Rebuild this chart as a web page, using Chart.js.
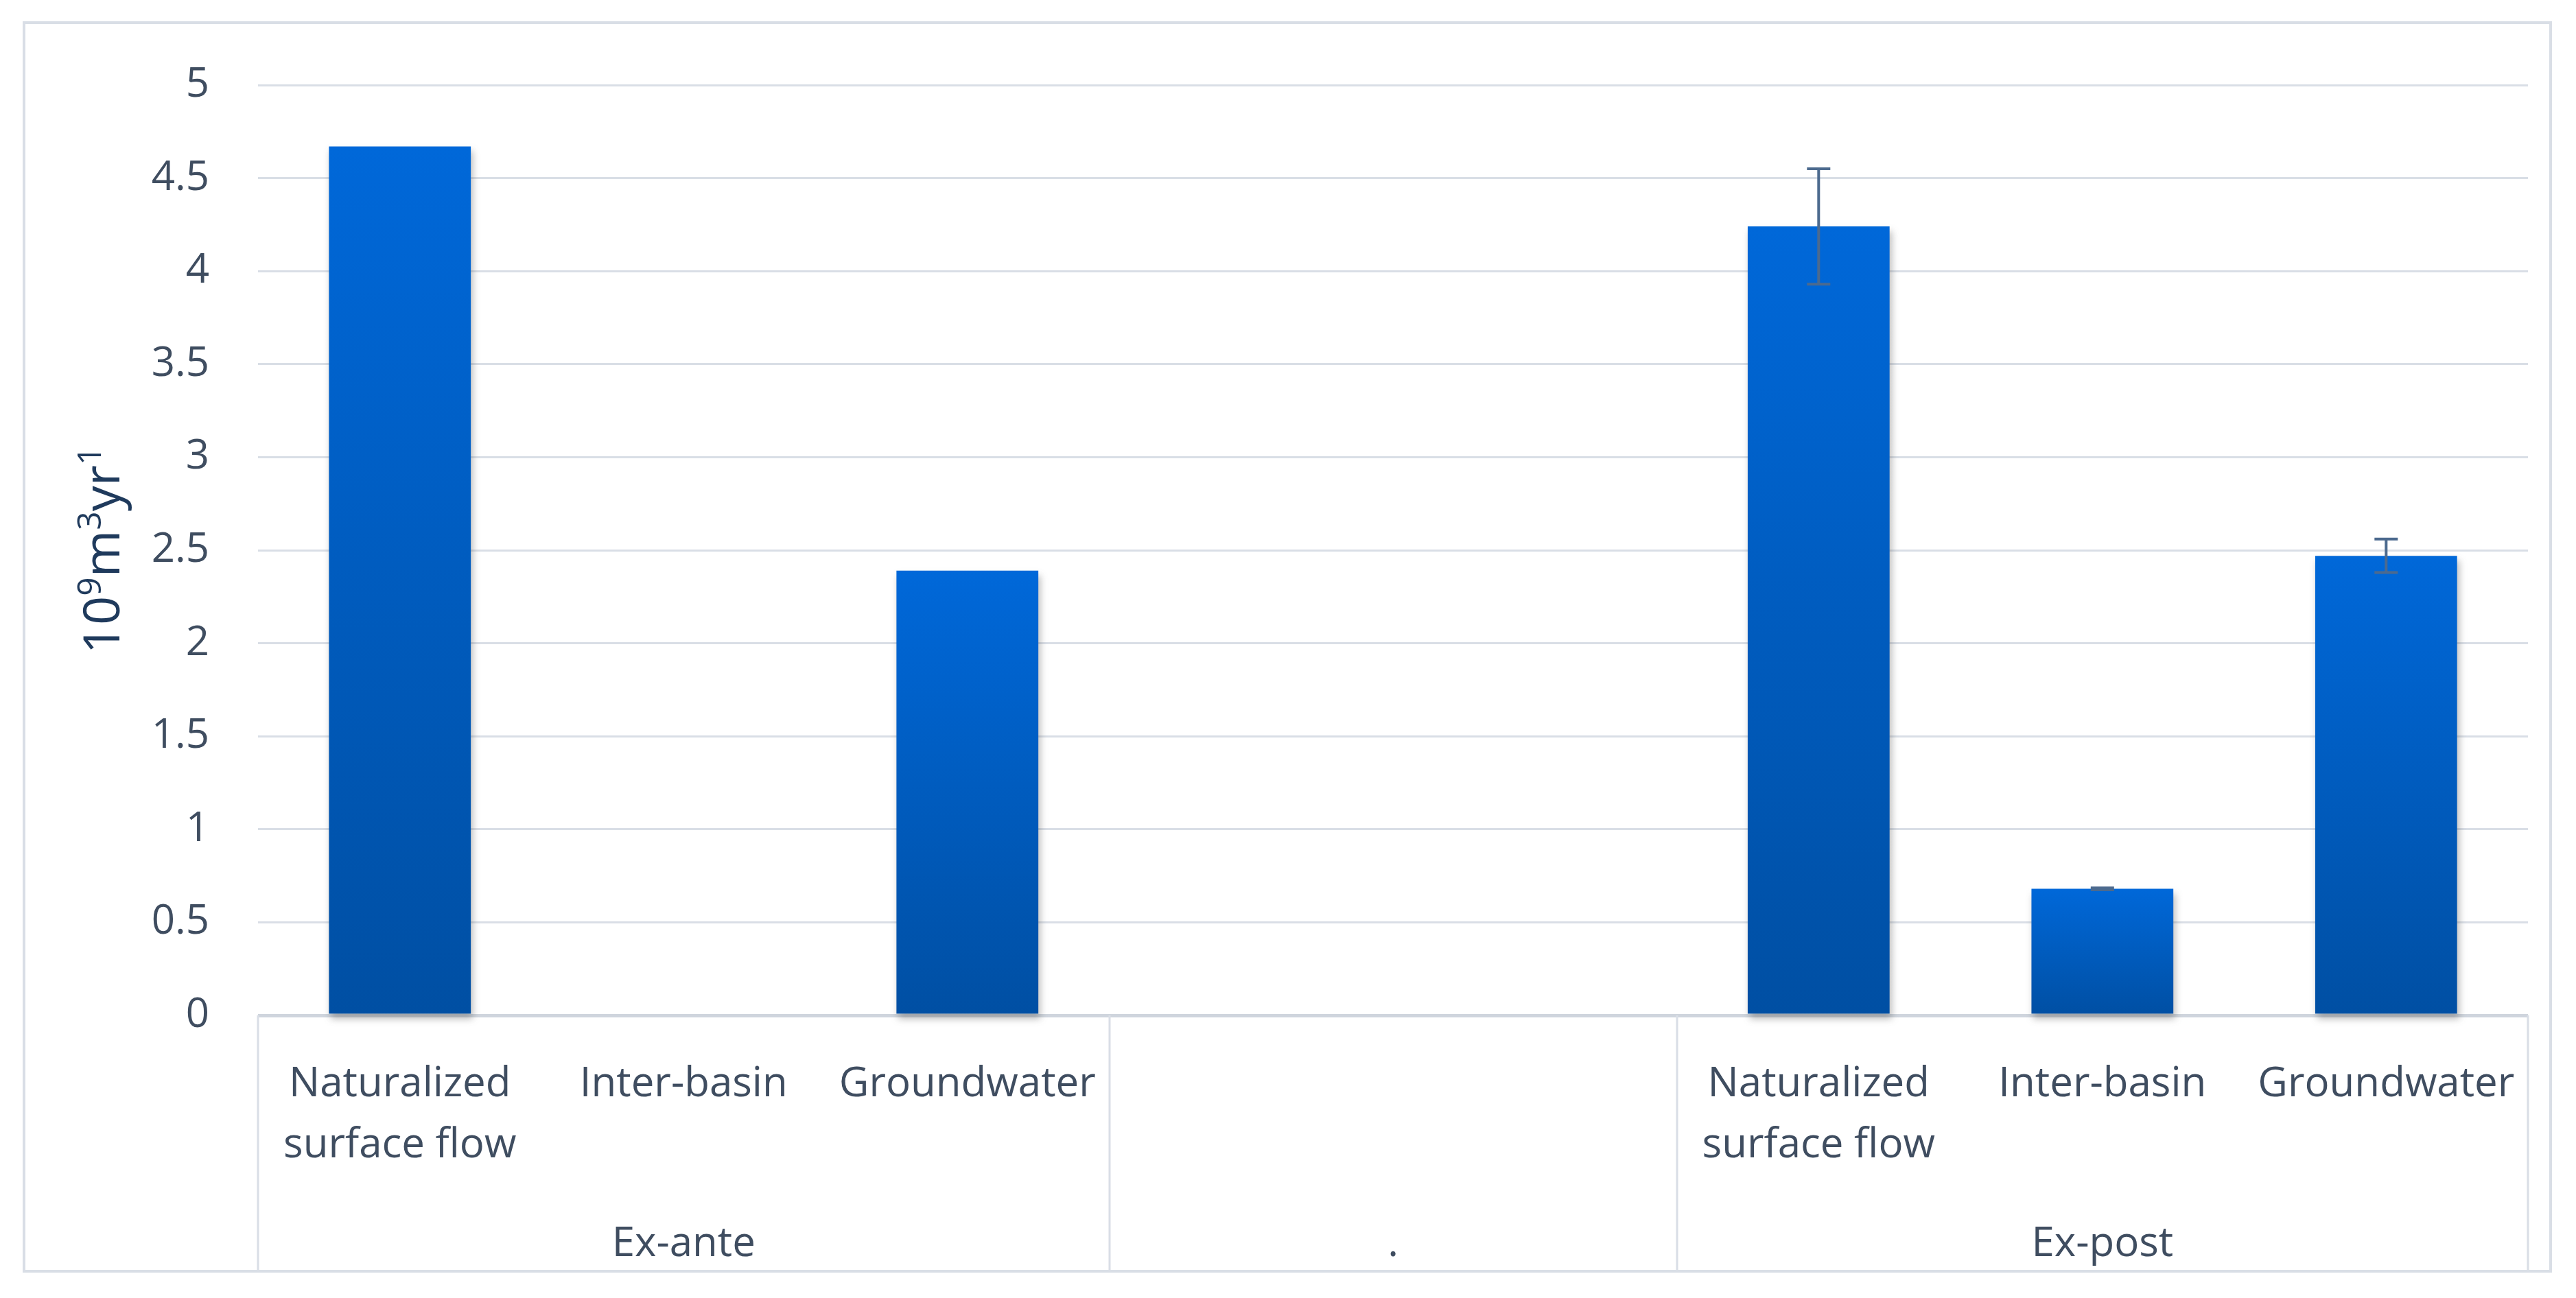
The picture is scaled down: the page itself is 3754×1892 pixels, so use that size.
<!DOCTYPE html>
<html>
<head>
<meta charset="utf-8">
<script src="https://cdn.jsdelivr.net/npm/chart.js@4.4.1/dist/chart.umd.min.js"></script>
<style>
  html, body { margin: 0; padding: 0; background: #ffffff; }
  #frame { position: absolute; left: 33px; top: 31px; width: 3686px; height: 1824px;
           border: 4px solid #D9DEE6; box-sizing: border-box; background: #ffffff; }
  #c { display: block; }
</style>
</head>
<body>
<div id="frame"><canvas id="c" width="3678" height="1816"></canvas></div>
<script>
// ---- data ----
const categories = [["Naturalized", "surface flow"], "Inter-basin", "Groundwater", "", "",
                    ["Naturalized", "surface flow"], "Inter-basin", "Groundwater"];
const values = [4.67, 0, 2.39, null, null, 4.24, 0.68, 2.47];
const errors = [0, 0, 0, 0, 0, 0.31, 0.005, 0.09];
const groupLabels = ["Ex-ante", ".", "Ex-post"];
const groupSpans = [3, 2, 3];
const yTicks = { min: 0, max: 5, step: 0.5 };
const yTitleParts = [["10", false], ["9", true], ["m", false], ["3", true], ["yr", false], ["1", true]];

const FONT = "'Open Sans', 'Noto Sans', sans-serif";
const LABEL_COLOR = '#3F4D60';

// group centres and boundaries in category-index units
const groupCenters = [];
const groupBounds = [-0.5];
{
  let start = 0;
  groupSpans.forEach(s => { groupCenters.push(start + (s - 1) / 2); start += s; groupBounds.push(start - 0.5); });
}

function barGradient(ctx) {
  const chart = ctx.chart;
  const { chartArea, scales } = chart;
  if (!chartArea || ctx.type !== 'data' || ctx.raw == null) return '#005BBF';
  const top = scales.y.getPixelForValue(ctx.raw);
  const bot = scales.y.getPixelForValue(0);
  if (bot - top < 1) return '#0050A6';
  const g = chart.ctx.createLinearGradient(0, top, 0, bot);
  g.addColorStop(0, '#0068D9');
  g.addColorStop(1, '#004FA3');
  return g;
}

const shadowPlugin = {
  id: 'barShadow',
  beforeDatasetsDraw(chart) {
    const c = chart.ctx; c.save();
    c.shadowColor = 'rgba(60,60,60,0.35)'; c.shadowBlur = 10; c.shadowOffsetX = 3; c.shadowOffsetY = 7;
  },
  afterDatasetsDraw(chart) { chart.ctx.restore(); }
};

const errorBarPlugin = {
  id: 'errorBars',
  afterDatasetsDraw(chart) {
    const c = chart.ctx, y = chart.scales.y;
    const meta = chart.getDatasetMeta(0);
    c.save();
    c.strokeStyle = '#4C6A8E'; c.lineWidth = 4; c.lineCap = 'butt';
    values.forEach((v, i) => {
      const e = errors[i];
      if (v == null || !e) return;
      const x = meta.data[i].x;
      const yt = y.getPixelForValue(v + e), yb = y.getPixelForValue(v - e);
      c.beginPath();
      c.moveTo(x, yt); c.lineTo(x, yb);
      c.moveTo(x - 17, yt); c.lineTo(x + 17, yt);
      c.moveTo(x - 17, yb); c.lineTo(x + 17, yb);
      c.stroke();
    });
    c.restore();
  }
};

const separatorPlugin = {
  id: 'groupSeparators',
  afterDraw(chart) {
    const c = chart.ctx, x = chart.scales.x, a = chart.chartArea;
    const w = x.getPixelForValue(1) - x.getPixelForValue(0);
    c.save();
    c.strokeStyle = '#D9DEE6'; c.lineWidth = 3;
    groupBounds.forEach(b => {
      const px = Math.round(x.getPixelForValue(0) + (b) * w);
      c.beginPath(); c.moveTo(px, a.bottom); c.lineTo(px, chart.height); c.stroke();
    });
    c.restore();
  }
};

const yTitlePlugin = {
  id: 'yTitle',
  afterDraw(chart) {
    const c = chart.ctx;
    const main = 74, sup = 48;
    c.save();
    c.fillStyle = '#1F3A5C';
    c.translate(111, 767);
    c.rotate(-Math.PI / 2);
    let total = 0;
    yTitleParts.forEach(([t, s]) => { c.font = `${s ? sup : main}px ${FONT}`; total += c.measureText(t).width; });
    let xx = -total / 2;
    c.textBaseline = 'alphabetic'; c.textAlign = 'left';
    yTitleParts.forEach(([t, s]) => {
      c.font = `${s ? sup : main}px ${FONT}`;
      c.fillText(t, xx, s ? 26 - 27 : 26);
      xx += c.measureText(t).width;
    });
    c.restore();
  }
};

new Chart(document.getElementById('c'), {
  type: 'bar',
  data: {
    labels: categories,
    datasets: [{
      data: values,
      backgroundColor: barGradient,
      borderWidth: 0,
      barPercentage: 0.5,
      categoryPercentage: 1.0,
      clip: false
    }]
  },
  plugins: [shadowPlugin, errorBarPlugin, separatorPlugin, yTitlePlugin],
  options: {
    responsive: false,
    animation: false,
    layout: { padding: { top: 89, right: 27, left: 0, bottom: 0 } },
    plugins: { legend: { display: false }, tooltip: { enabled: false } },
    scales: {
      y: {
        min: yTicks.min, max: yTicks.max,
        afterFit(s) { s.width = 339; },
        ticks: { stepSize: yTicks.step, padding: 0, color: LABEL_COLOR, font: { family: FONT, size: 60 },
                 callback: (v) => String(+Number(v).toFixed(1)) },
        grid: {
          drawTicks: true,
          tickLength: 71,
          tickColor: 'rgba(0,0,0,0)',
          color: (ctx) => ctx.tick && ctx.tick.value === 0 ? '#CFD5DD' : '#D9DEE6',
          lineWidth: (ctx) => ctx.tick && ctx.tick.value === 0 ? 5 : 3
        },
        border: { display: false }
      },
      x: {
        position: 'bottom',
        afterFit(s) { s.height = 260; },
        ticks: { color: LABEL_COLOR, padding: 49, maxRotation: 0, autoSkip: false,
                 font: { family: FONT, size: 60, lineHeight: 1.48 } },
        grid: { display: false },
        border: { display: false }
      },
      group: {
        type: 'linear',
        position: 'bottom',
        offset: false,
        min: -0.5, max: categories.length - 0.5,
        afterFit(s) { s.height = 111; },
        afterBuildTicks(s) { s.ticks = groupCenters.map(v => ({ value: v })); },
        ticks: {
          color: LABEL_COLOR, padding: 30, maxRotation: 0, autoSkip: false,
          font: { family: FONT, size: 60 },
          callback: (v, i) => groupLabels[i]
        },
        grid: { display: false },
        border: { display: false }
      }
    }
  }
});
</script>
</body>
</html>
